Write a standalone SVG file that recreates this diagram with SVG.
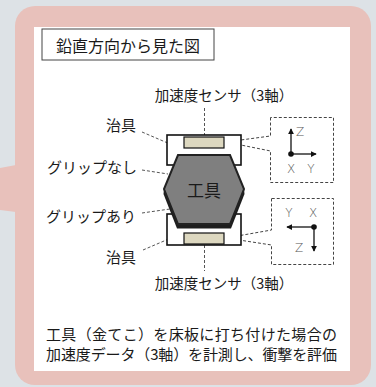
<svg xmlns="http://www.w3.org/2000/svg" width="376" height="387" viewBox="0 0 376 387">
  <defs>
    <style>
      .jp { font-family: "Noto Sans CJK JP", "Noto Sans", sans-serif; fill: #1a1a1a; }
      .lbl { font-size: 15px; }
      .axis { font-family: "DejaVu Sans", "Liberation Sans", sans-serif; font-size: 12px; fill: #555; font-weight: 300; }
      .lead { fill: none; stroke: #555; stroke-width: 1; stroke-dasharray: 3 2; }
      .callout { fill: #fff; stroke: #444; stroke-width: 1; stroke-dasharray: 3 2; }
      .jig { fill: #fff; stroke: #111; stroke-width: 1.6; }
      .sensor { fill: #ddd8c0; stroke: #111; stroke-width: 1.2; }
      .ax { stroke: #111; stroke-width: 1.3; fill: none; }
    </style>
    <marker id="ah" viewBox="0 0 8 8" refX="7" refY="4" markerWidth="6" markerHeight="6" orient="auto" markerUnits="userSpaceOnUse">
      <path d="M0,0 L8,4 L0,8 Z" fill="#111"/>
    </marker>
  </defs>

  <!-- page background and framed panel -->
  <rect width="376" height="387" fill="#dde2e6"/>
  <rect x="15" y="6" width="356" height="379" rx="20" fill="#e8c1bb"/>
  <polygon points="0,168 16,165 16,212 0,210" fill="#e8c1bb"/>
  <rect x="34" y="27" width="316" height="344" fill="#fff"/>

  <!-- heading -->
  <g id="title">
    <rect x="42" y="29" width="172" height="31" fill="#fff" stroke="#444" stroke-width="1"/>
    <text class="jp" x="128" y="52" font-size="16" text-anchor="middle">鉛直方向から見た図</text>
  </g>

  <!-- leader lines and callouts -->
  <g id="connectors">
    <line class="lead" x1="204.5" y1="108" x2="204.5" y2="142"/>
    <line class="lead" x1="204.5" y1="240" x2="204.5" y2="271"/>
    <line class="lead" x1="142" y1="132" x2="177" y2="147"/>
    <line class="lead" x1="142" y1="170" x2="168" y2="174"/>
    <line class="lead" x1="142" y1="213" x2="170" y2="209"/>
    <line class="lead" x1="143" y1="250" x2="178" y2="235"/>
  </g>

  <g id="axes-top">
    <path class="callout" d="M270.5,117.5 L270.5,136 L226,142 L270.5,151 L270.5,182.5 L333.5,182.5 L333.5,117.5 Z"/>
    <line class="ax" x1="291" y1="154" x2="291" y2="129" marker-end="url(#ah)"/>
    <line class="ax" x1="291" y1="154" x2="316" y2="154" marker-end="url(#ah)"/>
    <circle cx="291" cy="154" r="2.8" fill="#111"/>
    <text class="axis" x="300" y="136" text-anchor="middle">Z</text>
    <text class="axis" x="291" y="173" text-anchor="middle">X</text>
    <text class="axis" x="311" y="173" text-anchor="middle">Y</text>
  </g>

  <g id="axes-bottom">
    <path class="callout" d="M271.5,198.5 L271.5,230 L226,238 L271.5,245 L271.5,264.5 L333.5,264.5 L333.5,198.5 Z"/>
    <line class="ax" x1="314" y1="227" x2="287" y2="227" marker-end="url(#ah)"/>
    <line class="ax" x1="314" y1="227" x2="314" y2="251" marker-end="url(#ah)"/>
    <circle cx="314" cy="227" r="2.8" fill="#111"/>
    <text class="axis" x="289" y="217" text-anchor="middle">Y</text>
    <text class="axis" x="313" y="217" text-anchor="middle">X</text>
    <text class="axis" x="299" y="252" text-anchor="middle">Z</text>
  </g>

  <!-- upper jig with its sensor -->
  <g id="jig-top">
    <rect class="jig" x="167" y="135" width="74" height="30"/>
    <rect class="sensor" x="184" y="137" width="40" height="11"/>
  </g>

  <!-- lower jig with its sensor -->
  <g id="jig-bottom">
    <rect class="jig" x="167" y="214" width="74" height="31"/>
    <rect class="sensor" x="184" y="233" width="40" height="11"/>
  </g>

  <!-- grip band under the lower half of the hammer head -->
  <g id="grip">
    <polygon points="163.5,194 177,228.5 231,228.5 244.5,194 244,189 164,189" fill="#1e1e1e"/>
  </g>

  <!-- hammer head -->
  <g id="tool">
    <polygon points="178,155 230,155 244,189 230,224 178,224 164,189" fill="#7f7f7f" stroke="#222" stroke-width="2"/>
    <text class="jp" x="204" y="197" font-size="17" text-anchor="middle">工具</text>
  </g>

  <g id="sensor-label-top">
    <text class="jp" x="224" y="101" font-size="14.5" text-anchor="middle">加速度センサ（3軸）</text>
  </g>
  <g id="sensor-label-bottom">
    <text class="jp" x="224" y="289" font-size="14.5" text-anchor="middle">加速度センサ（3軸）</text>
  </g>

  <g id="label-jig-top"><text class="jp lbl" x="136" y="131" text-anchor="end">治具</text></g>
  <g id="label-no-grip"><text class="jp lbl" x="137" y="173" text-anchor="end">グリップなし</text></g>
  <g id="label-grip"><text class="jp lbl" x="136" y="222" text-anchor="end">グリップあり</text></g>
  <g id="label-jig-bottom"><text class="jp lbl" x="136" y="263" text-anchor="end">治具</text></g>

  <!-- caption -->
  <g id="caption">
    <text class="jp" x="46" y="340" font-size="15" textLength="291" lengthAdjust="spacing">工具（金てこ）を床板に打ち付けた場合の</text>
    <text class="jp" x="46" y="360" font-size="15" textLength="291" lengthAdjust="spacing">加速度データ（3軸）を計測し、衝撃を評価</text>
  </g>
</svg>
